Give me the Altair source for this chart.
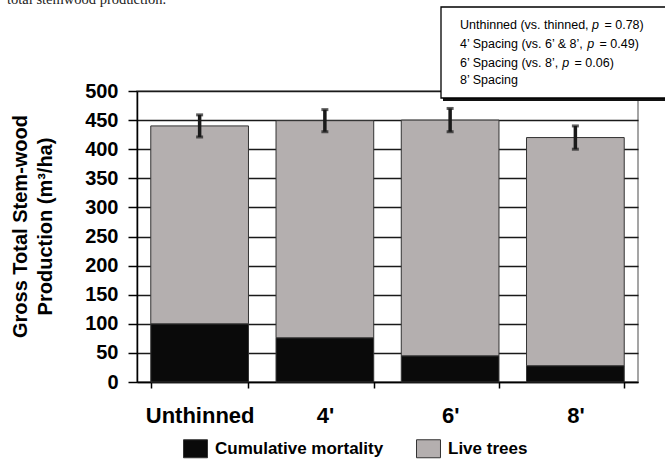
import altair as alt
import pandas as pd

# ---- data -------------------------------------------------------------
treatments = ["Unthinned", "4'", "6'", "8'"]
mortality = [100, 76, 45, 28]          # m3/ha, cumulative mortality
live_trees = [340, 373, 405, 392]      # m3/ha, live trees
std_err = [19, 19, 20, 20]             # half-length of error bars
y_ticks = [0, 50, 100, 150, 200, 250, 300, 350, 400, 450, 500]

components = ["Cumulative mortality", "Live trees"]
component_colors = ["#0a0a0a", "#b4afaf"]

note_prefix = [
    "Unthinned (vs. thinned, ",
    "4\u2019 Spacing (vs. 6\u2019 & 8\u2019, ",
    "6\u2019 Spacing (vs. 8\u2019, ",
    "8\u2019 Spacing",
]
note_p = ["0.78", "0.49", "0.06", None]

caption = "total stemwood production."

FONT = "Liberation Sans"

# ---- tables -------------------------------------------------------------
rows = []
for t, m, l in zip(treatments, mortality, live_trees):
    rows.append({"treatment": t, "component": components[0], "value": m, "order": 0})
    rows.append({"treatment": t, "component": components[1], "value": l, "order": 1})
stack_df = pd.DataFrame(rows)

err_df = pd.DataFrame({
    "treatment": treatments,
    "total": [m + l for m, l in zip(mortality, live_trees)],
    "err": std_err,
})
err_df["lo"] = err_df["total"] - err_df["err"]
err_df["hi"] = err_df["total"] + err_df["err"]

# Arial/Liberation Sans advance widths (1/1000 em) used to place the italic "p"
ADV = {' ': 278, '(': 333, ')': 333, ',': 278, '.': 278, '\u2019': 222,
       '&': 667, '=': 584, 'U': 722, 'S': 667, 'a': 556, 'c': 500, 'd': 556,
       'e': 556, 'g': 556, 'h': 556, 'i': 222, 'n': 556, 'p': 556, 's': 500,
       't': 278, 'v': 500}


def text_width(s, size):
    return sum(ADV.get(ch, 556) for ch in s) * size / 1000.0


# ---- axes ----------------------------------------------------------------
x_axis = alt.Axis(
    title=None, labelAngle=0, tickBand="extent",
    domainColor="black", domainWidth=1.5,
    tickColor="black", tickWidth=1.5, tickSize=6,
    labelFont=FONT, labelFontSize=22, labelFontWeight="bold",
    labelColor="black", labelPadding=17,
)
x_scale = alt.Scale(paddingInner=0.22, paddingOuter=0.11)

y_axis = alt.Axis(
    values=y_ticks,
    grid=True, gridColor="#1a1a1a", gridWidth=1.4,
    domainColor="black", domainWidth=1.5,
    tickColor="black", tickWidth=1.5, tickSize=9,
    labelFont=FONT, labelFontSize=20, labelFontWeight="bold",
    labelColor="black", labelPadding=10, labelOverlap=False,
    title=["Gross Total Stem-wood", "Production (m\u00b3/ha)"],
    titleFont=FONT, titleFontSize=20, titleFontWeight="bold",
    titleColor="black", titleAngle=270, titleAlign="center",
    titleBaseline="alphabetic", titleX=-111, titleY=135,
    titleLineHeight=25,
)
y_scale = alt.Scale(domain=[0, 500], nice=False, zero=True)


def x_enc():
    return alt.X("treatment:N", sort=treatments, scale=x_scale, axis=x_axis)


# ---- chart ---------------------------------------------------------------
bars = alt.Chart(stack_df).mark_bar(stroke="#333333", strokeWidth=1).encode(
    x=x_enc(),
    y=alt.Y("value:Q", stack="zero", scale=y_scale, axis=y_axis),
    color=alt.Color(
        "component:N",
        scale=alt.Scale(domain=components, range=component_colors),
        legend=alt.Legend(
            orient="none", legendX=49, legendY=348, direction="horizontal",
            title=None, padding=0, labelLimit=0,
            symbolType="M-1.333,-1H1.333V1H-1.333Z", symbolSize=324,
            symbolStrokeColor="#333333", symbolStrokeWidth=1, symbolOpacity=1,
            labelFont=FONT, labelFontSize=17, labelFontWeight="bold",
            labelColor="black", labelOffset=10, columnPadding=30,
        ),
    ),
    order=alt.Order("order:Q"),
)

err_rule = alt.Chart(err_df).mark_rule(color="#1a1a1a", strokeWidth=3.5).encode(
    x=x_enc(),
    y=alt.Y("lo:Q", scale=y_scale, axis=y_axis),
    y2="hi:Q",
)
cap_lo = alt.Chart(err_df).mark_tick(color="#1a1a1a", thickness=3, size=7).encode(
    x=x_enc(),
    y=alt.Y("lo:Q", scale=y_scale, axis=y_axis),
)
cap_hi = alt.Chart(err_df).mark_tick(color="#1a1a1a", thickness=3, size=7).encode(
    x=x_enc(),
    y=alt.Y("hi:Q", scale=y_scale, axis=y_axis),
)

# boxed note with a drop shadow, top right
one = pd.DataFrame({"k": [0]})
shadow = alt.Chart(one).mark_rect(fill="#111111").encode(
    x=alt.value(306), x2=alt.value(545), y=alt.value(-82), y2=alt.value(10),
)
box = alt.Chart(one).mark_rect(fill="white", stroke="black", strokeWidth=1.3).encode(
    x=alt.value(304), x2=alt.value(543), y=alt.value(-84), y2=alt.value(7),
)

NOTE_SIZE = 12.5
note_x0 = 323
note_y = [-66, -47, -28, -11]
note_layers = []
for pre, pv, ny in zip(note_prefix, note_p, note_y):
    pieces = [(pre, note_x0, "normal")]
    if pv is not None:
        xp = note_x0 + text_width(pre, NOTE_SIZE)
        pieces.append(("p", xp, "italic"))
        pieces.append(("= " + pv + ")", xp + text_width("p ", NOTE_SIZE) + 2, "normal"))
    for txt, px, style in pieces:
        note_layers.append(
            alt.Chart(one).mark_text(
                text=txt, font=FONT, fontSize=NOTE_SIZE, fontStyle=style,
                color="black", align="left", baseline="middle",
            ).encode(x=alt.value(px), y=alt.value(ny))
        )

# running text sitting just above the figure
cap_text = alt.Chart(one).mark_text(
    text=caption, font="Liberation Serif", fontSize=14.5, color="#222222",
    align="left", baseline="alphabetic",
).encode(
    x=alt.value(-130), y=alt.value(-87),
)

chart = alt.layer(
    bars, err_rule, cap_lo, cap_hi, shadow, box, *note_layers, cap_text,
).properties(
    width=501,
    height=291,
    autosize=alt.AutoSizeParams(type="none"),
    padding={"left": 137, "top": 91, "right": 27, "bottom": 80},
    background="white",
).configure_view(
    stroke="#888888", strokeWidth=1.5,
)

chart.save("out.html", embed_options={"renderer": "svg", "actions": False})
